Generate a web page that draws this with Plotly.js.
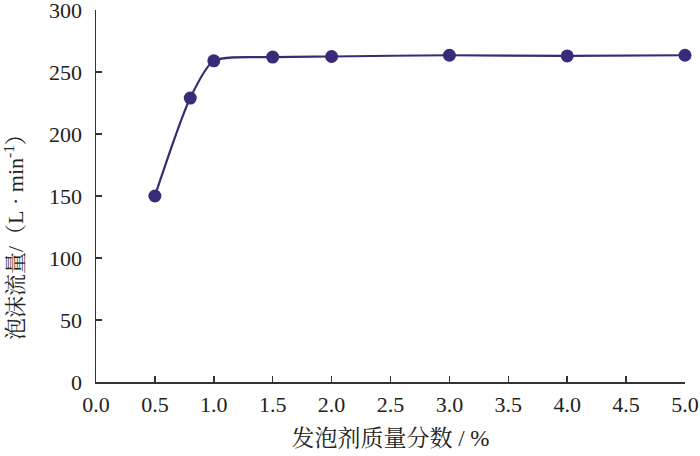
<!DOCTYPE html>
<html>
<head>
<meta charset="utf-8">
<script src="https://cdn.plot.ly/plotly-3.0.1.min.js"></script>
<style>
  body { margin: 0; background: #fff; }
  #plot { width: 700px; height: 456px; }
</style>
</head>
<body>
<div id="plot"></div>
<script>
"use strict";

// foaming agent mass fraction (%) vs foam flow (L/min)
const massFraction = [0.5, 0.8, 1.0, 1.5, 2.0, 3.0, 4.0, 5.0];
const foamFlow = [150, 229, 259, 262, 262.5, 263.5, 263, 263.5];

const xTicks = [0, 0.5, 1, 1.5, 2, 2.5, 3, 3.5, 4, 4.5, 5];
const xTickText = xTicks.map(v => v.toFixed(1));
const yTicks = [0, 50, 100, 150, 200, 250, 300];

const fontFamily = 'Times New Roman, Liberation Serif, DejaVu Serif, Noto Serif CJK SC, Noto Sans CJK SC, serif';
const lineColor = '#3b2a78';
const axisColor = '#333';

var trace = {
    x: massFraction,
    y: foamFlow,
    mode: 'lines+markers',
    line: { color: lineColor, width: 2.2, shape: 'spline', smoothing: 0.7 },
    marker: { color: lineColor, size: 13 },
    cliponaxis: false,
    showlegend: false
};

var layout = {
    width: 700,
    height: 456,
    margin: { l: 96, r: 15, t: 10, b: 74 },
    paper_bgcolor: '#fff',
    plot_bgcolor: '#fff',
    font: { family: fontFamily, size: 22, color: '#222' },
    xaxis: {
        range: [0, 5],
        tickvals: xTicks,
        ticktext: xTickText,
        ticks: 'inside',
        ticklen: 6,
        tickwidth: 1.5,
        tickcolor: axisColor,
        showline: true,
        linecolor: axisColor,
        linewidth: 1.5,
        showgrid: false,
        zeroline: false,
        ticklabelstandoff: 2,
        ticklabeloverflow: 'allow',
        title: { text: '发泡剂质量分数 / %', font: { size: 23, family: fontFamily }, standoff: 14 }
    },
    yaxis: {
        range: [0, 300],
        tickvals: yTicks,
        ticks: 'inside',
        ticklen: 6,
        tickwidth: 1.5,
        tickcolor: axisColor,
        showline: true,
        linecolor: axisColor,
        linewidth: 1.5,
        showgrid: false,
        zeroline: false,
        ticklabelstandoff: 8,
        ticklabeloverflow: 'allow'
    },
    // y title sits below the plot centre in the original, so place it by hand
    annotations: [{
        text: '泡沫流量/（L&nbsp;·&nbsp;min<sup>-1</sup>）',
        textangle: -90,
        xref: 'paper', yref: 'paper',
        x: 0, y: 0.403,
        xanchor: 'center', yanchor: 'middle',
        xshift: -82,
        showarrow: false,
        font: { size: 22, family: fontFamily, color: '#222' }
    }]
};

Plotly.newPlot('plot', [trace], layout, { staticPlot: true, displayModeBar: false });
</script>
</body>
</html>
